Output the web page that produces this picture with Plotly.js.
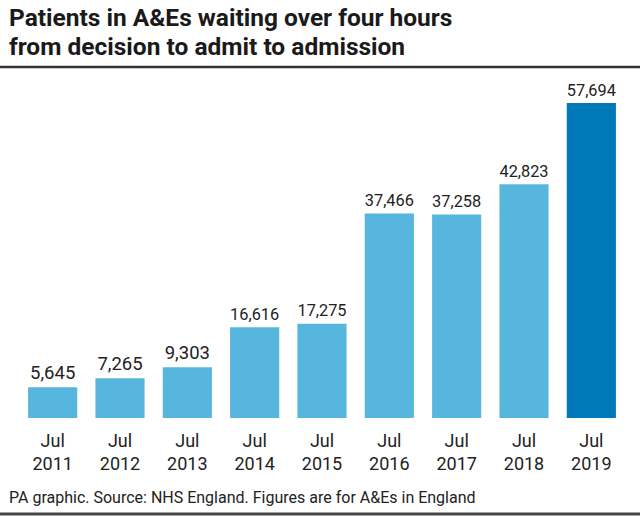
<!DOCTYPE html>
<html><head><meta charset="utf-8">
<script src="https://cdn.plot.ly/plotly-3.0.1.min.js"></script>
<style>html,body{margin:0;padding:0;background:#fff}#c{width:640px;height:516px}</style>
</head><body><div id="c"></div>
<script>
const categories = ["Jul 2011","Jul 2012","Jul 2013","Jul 2014","Jul 2015","Jul 2016","Jul 2017","Jul 2018","Jul 2019"];
const tickLabels = ["Jul<br>2011","Jul<br>2012","Jul<br>2013","Jul<br>2014","Jul<br>2015","Jul<br>2016","Jul<br>2017","Jul<br>2018","Jul<br>2019"];
const values = [5645, 7265, 9303, 16616, 17275, 37466, 37258, 42823, 57694];
const valueLabels = ["5,645","7,265","9,303","16,616","17,275","37,466","37,258","42,823","57,694"];
const titleLines = ["Patients in A&Es waiting over four hours", "from decision to admit to admission"];
const barColors = values.map((v,i)=> i===values.length-1 ? "#0079b9" : "#57b6de");

const FONT = "Roboto, 'Open Sans', sans-serif";
const PH = 338, PW = 606, T = 80;
const yFromTop = px => 1 + (T - px)/PH;
const data = [{
  type:"bar", x:categories, y:values, text:valueLabels,
  textposition:"outside", cliponaxis:false,
  textfont:{family:FONT, size:18.5, color:"#222"},
  marker:{color:barColors, line:{width:0}},
  hoverinfo:"none"
}];
const layout = {
  width:640, height:516,
  paper_bgcolor:"#fff", plot_bgcolor:"#fff",
  margin:{l:19, r:15, t:T, b:98},
  bargap:0.27,
  showlegend:false,
  font:{family:FONT, color:"#222"},
  xaxis:{tickmode:"array", tickvals:categories, ticktext:tickLabels,
    tickfont:{family:FONT, size:18, color:"#222"},
    ticks:"outside", ticklen:6, tickcolor:"rgba(0,0,0,0)", showline:false, showgrid:false, zeroline:false, fixedrange:true},
  yaxis:{range:[0,61905], visible:false, showgrid:false, zeroline:false, fixedrange:true},
  shapes:[
    {type:"line", xref:"paper", yref:"paper", x0:-19/PW, x1:1+15/PW, y0:yFromTop(67), y1:yFromTop(67), line:{color:"#333", width:2.5}},
    {type:"line", xref:"paper", yref:"paper", x0:-19/PW, x1:1+15/PW, y0:-96/PH, y1:-96/PH, line:{color:"#444", width:3}}
  ],
  annotations:[
    {text:"<b>"+titleLines[0]+"</b>", xref:"paper", yref:"paper",
     x:-12/PW, xanchor:"left", y:yFromTop(18), yanchor:"middle", align:"left", showarrow:false,
     font:{family:FONT, size:24.5, color:"#1a1a1a"}},
    {text:"<b>"+titleLines[1]+"</b>", xref:"paper", yref:"paper",
     x:-12/PW, xanchor:"left", y:yFromTop(46.5), yanchor:"middle", align:"left", showarrow:false,
     font:{family:FONT, size:24.5, color:"#1a1a1a"}},
    {text:"PA graphic. Source: NHS England. Figures are for A&Es in England", xref:"paper", yref:"paper",
     x:-12/PW, xanchor:"left", y:-79/PH, yanchor:"middle", showarrow:false,
     font:{family:FONT, size:16, color:"#222"}}
  ]
};
Plotly.newPlot("c", data, layout, {staticPlot:true, displayModeBar:false});
</script></body></html>
